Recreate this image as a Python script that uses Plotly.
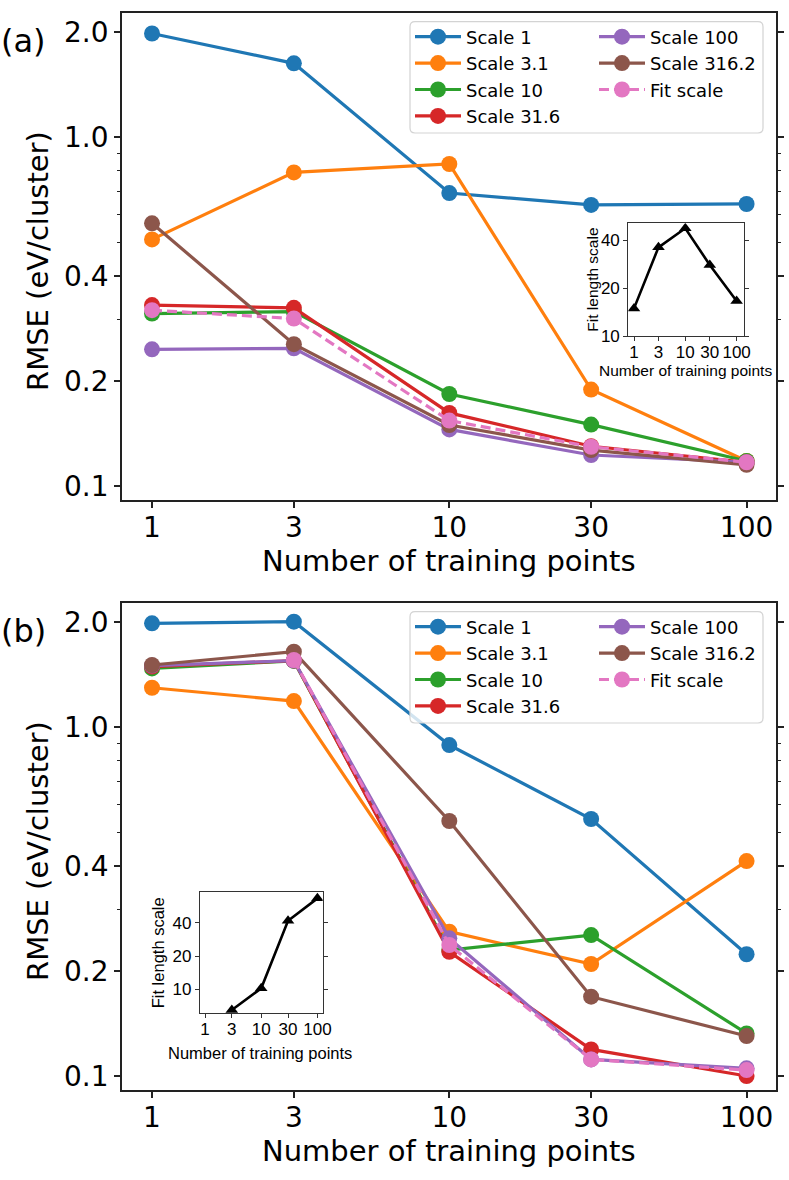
import plotly.graph_objects as go

# ---------------- data ----------------
n_train = [1, 3, 10, 30, 100]
series_names = ["Scale 1", "Scale 3.1", "Scale 10", "Scale 31.6",
                "Scale 100", "Scale 316.2", "Fit scale"]
series_colors = ["#1f77b4", "#ff7f0e", "#2ca02c", "#d62728",
                 "#9467bd", "#8c564b", "#e377c2"]

# panel (a) RMSE (eV/cluster)
a_scale_1 = [1.98, 1.626, 0.691, 0.639, 0.643]
a_scale_3_1 = [0.509, 0.792, 0.837, 0.189, 0.118]
a_scale_10 = [0.312, 0.316, 0.1835, 0.150, 0.118]
a_scale_31_6 = [0.330, 0.324, 0.162, 0.130, 0.117]
a_scale_100 = [0.2465, 0.248, 0.1453, 0.1227, 0.117]
a_scale_316_2 = [0.566, 0.255, 0.1496, 0.1268, 0.115]
a_fit_scale = [0.319, 0.302, 0.154, 0.1296, 0.117]

# panel (b) RMSE (eV/cluster)
b_scale_1 = [1.982, 2.004, 0.888, 0.545, 0.2233]
b_scale_3_1 = [1.296, 1.187, 0.2592, 0.2094, 0.413]
b_scale_10 = [1.472, 1.547, 0.2296, 0.2535, 0.1325]
b_scale_31_6 = [1.49, 1.55, 0.227, 0.1192, 0.100]
b_scale_100 = [1.50, 1.55, 0.248, 0.1116, 0.1052]
b_scale_316_2 = [1.506, 1.644, 0.538, 0.1688, 0.1302]
b_fit_scale = [None, 1.556, 0.2374, 0.1116, 0.104]

# insets: fitted length scale
inset_a_n = [1, 3, 10, 30, 100]
inset_a_scale = [14.9, 36.0, 47.4, 27.9, 16.6]
inset_b_n = [3, 10, 30, 100]
inset_b_scale = [6.5, 10.2, 41.7, 66.4]

main_yticks = [0.1, 0.2, 0.4, 1.0, 2.0]
main_yticktext = ["0.1", "0.2", "0.4", "1.0", "2.0"]
main_yminor = [0.3, 0.5, 0.6, 0.7, 0.8, 0.9]
xticks = [1, 3, 10, 30, 100]
xticktext = ["1", "3", "10", "30", "100"]
inset_yticks = [10, 20, 40]

panel_a = [a_scale_1, a_scale_3_1, a_scale_10, a_scale_31_6,
           a_scale_100, a_scale_316_2, a_fit_scale]
panel_b = [b_scale_1, b_scale_3_1, b_scale_10, b_scale_31_6,
           b_scale_100, b_scale_316_2, b_fit_scale]

W, H = 789, 1180
MAIN = "DejaVu Sans"
INS = "Liberation Sans"


def px(x):
    return x / W


def py(y):
    return 1 - y / H


fig = go.Figure()

for panel, (xa, ya, lg1, lg2) in zip(
        [panel_a, panel_b],
        [("x", "y", "legend", "legend2"), ("x2", "y2", "legend3", "legend4")]):
    for i, (name, col, vals) in enumerate(zip(series_names, series_colors, panel)):
        fig.add_trace(go.Scatter(
            x=n_train, y=vals, name=name, xaxis=xa, yaxis=ya,
            mode="lines+markers",
            line=dict(color=col, width=3.2,
                      dash="10px,5px" if name == "Fit scale" else "solid"),
            marker=dict(color=col, size=16, symbol="circle"),
            legend=lg1 if i < 4 else lg2,
            connectgaps=False,
        ))

fig.add_trace(go.Scatter(x=inset_a_n, y=inset_a_scale, xaxis="x3", yaxis="y3",
                         mode="lines+markers", showlegend=False,
                         line=dict(color="black", width=2.6),
                         marker=dict(color="black", symbol="triangle-up", size=11)))
fig.add_trace(go.Scatter(x=inset_b_n, y=inset_b_scale, xaxis="x4", yaxis="y4",
                         mode="lines+markers", showlegend=False,
                         line=dict(color="black", width=2.6),
                         marker=dict(color="black", symbol="triangle-up", size=11)))

XDOM = [px(122), px(776)]
main_x = dict(type="log", range=[-0.101, 2.099], tickvals=xticks, ticktext=xticktext,
              ticks="outside", ticklen=6, tickwidth=1.5, tickcolor="#222",
              showline=True, linecolor="#222", linewidth=1.8, mirror=True,
              showgrid=False, zeroline=False, automargin=False,
              ticklabelstandoff=-5,
              tickfont=dict(family=MAIN, size=28, color="black"))
main_y = dict(type="log", range=[-1.040, 0.3554], tickvals=main_yticks,
              ticktext=main_yticktext,
              ticks="outside", ticklen=6, tickwidth=1.5, tickcolor="#222",
              minor=dict(tickvals=main_yminor, ticks="outside", ticklen=3.5,
                         tickwidth=1.2, tickcolor="#222", showgrid=False),
              showline=True, linecolor="#222", linewidth=1.8, mirror="ticks",
              showgrid=False, zeroline=False, automargin=False,
              tickfont=dict(family=MAIN, size=28, color="black"))

ins_x = dict(type="log", tickvals=xticks, ticktext=xticktext,
             ticks="outside", ticklen=4, tickwidth=1.1, tickcolor="#333",
             showline=True, linecolor="#333", linewidth=1.2, mirror=True,
             showgrid=False, zeroline=False, automargin=False,
             ticklabelstandoff=-4,
             tickfont=dict(family=INS, size=17, color="black"))
ins_y = dict(type="log", tickvals=inset_yticks, ticktext=[str(v) for v in inset_yticks],
             ticks="outside", ticklen=4, tickwidth=1.1, tickcolor="#333",
             showline=True, linecolor="#333", linewidth=1.2, mirror="ticks",
             showgrid=False, zeroline=False, automargin=False,
             tickfont=dict(family=INS, size=17, color="black"))

fig.update_layout(
    template="none",
    width=W, height=H, margin=dict(l=0, r=0, t=0, b=0, autoexpand=False),
    paper_bgcolor="white", plot_bgcolor="white",
    xaxis=dict(main_x, domain=XDOM, anchor="y"),
    yaxis=dict(main_y, domain=[py(500), py(13)], anchor="x"),
    xaxis2=dict(main_x, domain=XDOM, anchor="y2"),
    yaxis2=dict(main_y, domain=[py(1090), py(603)], anchor="x2"),
    xaxis3=dict(ins_x, domain=[px(628.3), px(744)], anchor="y3", range=[-0.111, 2.144]),
    yaxis3=dict(ins_y, domain=[py(336), py(223.3)], anchor="x3", range=[1.0, 1.707]),
    xaxis4=dict(ins_x, domain=[px(200), px(322.7)], anchor="y4", range=[-0.089, 2.094]),
    yaxis4=dict(ins_y, domain=[py(1013.3), py(891.7)], anchor="x4", range=[0.783, 1.8825]),
    showlegend=True,
)

leg_common = dict(orientation="v", bgcolor="rgba(0,0,0,0)", borderwidth=0,
                  font=dict(family=MAIN, size=18, color="black"),
                  xanchor="left", yanchor="top", itemwidth=46, tracegroupgap=0)
fig.update_layout(
    legend=dict(leg_common, x=px(410), y=py(18.5)),
    legend2=dict(leg_common, x=px(594), y=py(18.5)),
    legend3=dict(leg_common, x=px(410), y=py(608.5)),
    legend4=dict(leg_common, x=px(594), y=py(608.5)),
)


def rounded_box(x0, y0, x1, y1, r=5):
    X0, X1 = px(x0), px(x1)
    Y0, Y1 = py(y0), py(y1)
    rx, ry = r / W, r / H
    return (f"M{X0 + rx},{Y0} L{X1 - rx},{Y0} Q{X1},{Y0} {X1},{Y0 - ry} "
            f"L{X1},{Y1 + ry} Q{X1},{Y1} {X1 - rx},{Y1} L{X0 + rx},{Y1} "
            f"Q{X0},{Y1} {X0},{Y1 + ry} L{X0},{Y0 - ry} Q{X0},{Y0} {X0 + rx},{Y0} Z")


for top in (21.7, 611.7):
    fig.add_shape(type="path", path=rounded_box(410, top, 763, top + 111.3),
                  xref="paper", yref="paper", layer="above",
                  fillcolor="rgba(255,255,255,0.8)",
                  line=dict(color="#d3d3d3", width=1.2))

ann = []
for lab, yc in (("(a)", 41), ("(b)", 631)):
    ann.append(dict(text=lab, x=px(-1), y=py(yc), xref="paper", yref="paper",
                    xanchor="left", yanchor="middle", showarrow=False,
                    font=dict(family=MAIN, size=32, color="black")))
for yc in (561, 1151):
    ann.append(dict(text="Number of training points", x=px(449), y=py(yc),
                    xref="paper", yref="paper", xanchor="center", yanchor="middle",
                    showarrow=False, font=dict(family=MAIN, size=29, color="black")))
for yc in (261, 851):
    ann.append(dict(text="RMSE (eV/cluster)", x=px(38), y=py(yc), textangle=-90,
                    xref="paper", yref="paper", xanchor="center", yanchor="middle",
                    showarrow=False, font=dict(family=MAIN, size=29, color="black")))
# inset titles
ann.append(dict(text="Number of training points", x=px(685), y=py(370.5),
                xref="paper", yref="paper", xanchor="center", yanchor="middle",
                showarrow=False, font=dict(family=INS, size=15.5, color="black")))
ann.append(dict(text="Fit length scale", x=px(591.7), y=py(280), textangle=-90,
                xref="paper", yref="paper", xanchor="center", yanchor="middle",
                showarrow=False, font=dict(family=INS, size=15.5, color="black")))
ann.append(dict(text="Number of training points", x=px(260), y=py(1052.5),
                xref="paper", yref="paper", xanchor="center", yanchor="middle",
                showarrow=False, font=dict(family=INS, size=16.5, color="black")))
ann.append(dict(text="Fit length scale", x=px(158.3), y=py(953), textangle=-90,
                xref="paper", yref="paper", xanchor="center", yanchor="middle",
                showarrow=False, font=dict(family=INS, size=16.5, color="black")))
fig.update_layout(annotations=ann)

fig.write_html("out.html",
               config={"displayModeBar": False},
               post_script="document.body.style.margin='0';"
                           "document.body.style.padding='0';"
                           "document.body.style.overflow='hidden';")
